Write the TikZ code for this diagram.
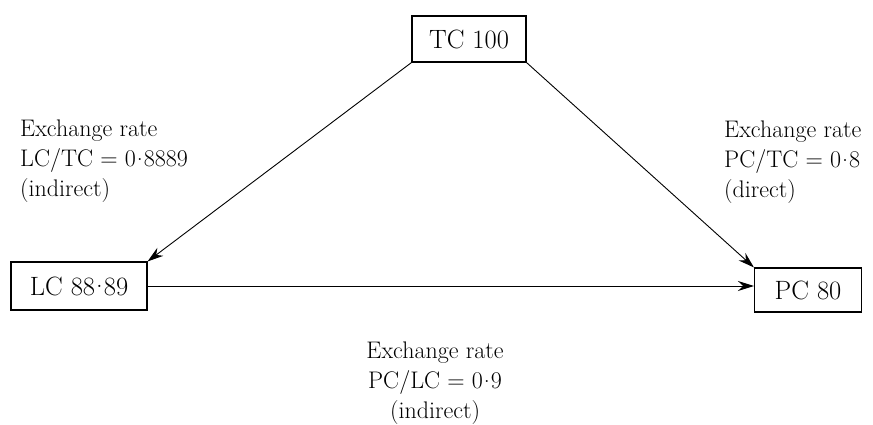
\documentclass[tikz,border=0pt]{standalone}
\usetikzlibrary{arrows.meta}
% raised decimal point
\newcommand{\dpt}{\kern0.04em\raisebox{0.28em}{.}\kern0.04em}
\begin{document}
\begin{tikzpicture}[x=1pt,y=-1pt,
  acct/.style={draw,line width=1.1pt,inner sep=0pt,font=\fontsize{26.5}{30}\selectfont},
  rate/.style={align=left,font=\fontsize{24}{30}\selectfont,inner sep=0pt},
  link/.style={line width=0.9pt,-{Stealth[length=16pt,width=10pt]}}]
\useasboundingbox (0,0) rectangle (873,425);
% currency boxes
\node[acct,minimum width=114pt,minimum height=46pt] (tc) at (469,39) {TC 100};
\node[acct,minimum width=136pt,minimum height=48pt] (lc) at (79,286) {LC 88\dpt 89};
\node[acct,minimum width=107pt,minimum height=44pt] (pc) at (808,290) {PC 80};
% conversions
\draw[link] (tc.south west) -- (lc.north east);
\draw[link] (tc.south east) -- (pc.north west);
\draw[link] (lc.east) -- (lc.east -| pc.west);
% rate annotations
\node[rate,anchor=north west] (lrate) at (20,120) {Exchange rate\\LC/TC = 0\dpt 8889\\(indirect)};
\node[rate,anchor=north west] (rrate) at (724,121) {Exchange rate\\PC/TC = 0\dpt 8\\(direct)};
\node[rate,align=center,anchor=north] (brate) at (435,342) {Exchange rate\\PC/LC = 0\dpt 9\\(indirect)};
\end{tikzpicture}
\end{document}
